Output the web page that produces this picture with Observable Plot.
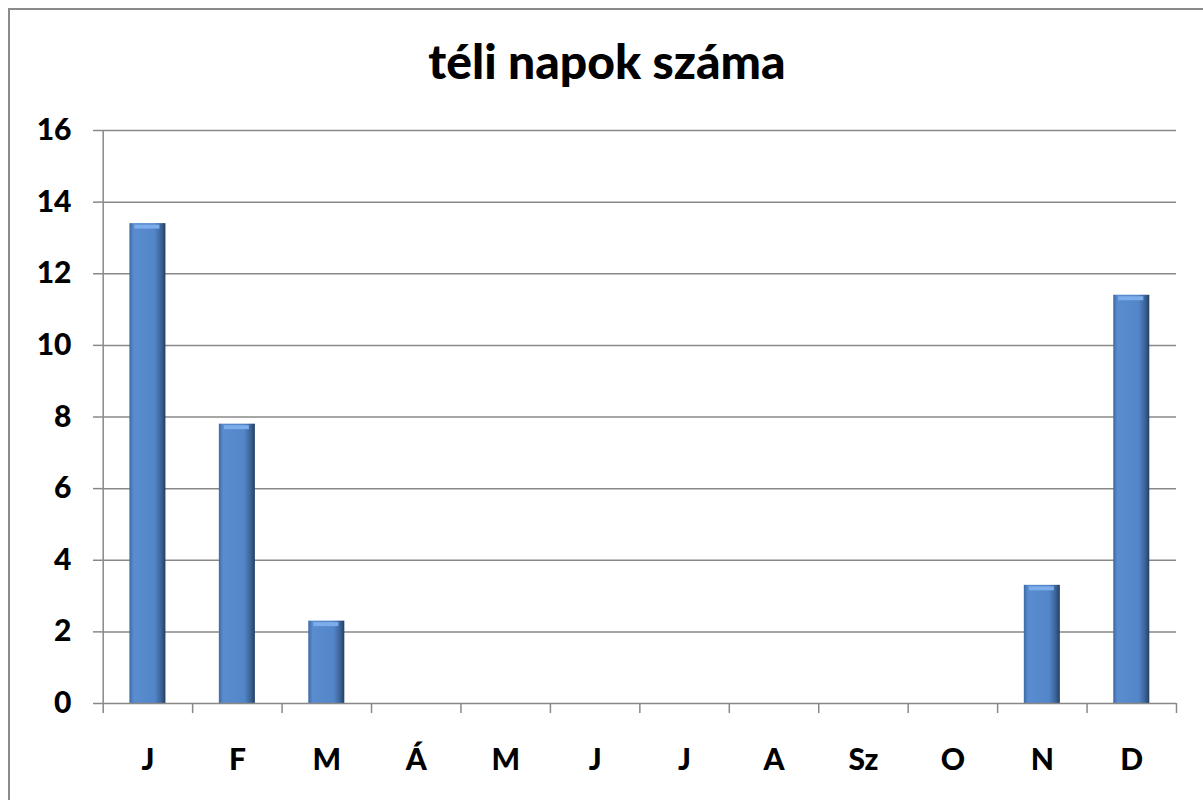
<!DOCTYPE html>
<html>
<head>
<meta charset="utf-8">
<script src="https://cdn.jsdelivr.net/npm/d3@7"></script>
<script src="https://cdn.jsdelivr.net/npm/@observablehq/plot@0.6"></script>
<style>
  html, body { margin: 0; padding: 0; background: #fff; overflow: hidden; }
  #wrap { position: relative; width: 1203px; height: 800px; }
  #frame { position: absolute; left: 8px; top: 8px; width: 1300px; height: 900px;
           border-left: 2px solid #8a8a8a; border-top: 2px solid #8a8a8a; pointer-events: none; }
  #title { position: relative; height: 100px; box-sizing: border-box; padding-top: 37px;
           width: 1214px; text-align: center; font-family: Lato, "Open Sans", sans-serif;
           font-weight: 900; font-size: 48px; line-height: 48px; color: #000; }
  #chart svg { display: block; }
</style>
</head>
<body>
<svg width="0" height="0" style="position:absolute">
  <defs>
    <linearGradient id="barGrad" x1="0" x2="1" y1="0" y2="0">
      <stop offset="0" stop-color="#3e6aa3"/>
      <stop offset="0.12" stop-color="#5a8dd0"/>
      <stop offset="0.7" stop-color="#5386c8"/>
      <stop offset="0.88" stop-color="#3b6499"/>
      <stop offset="1" stop-color="#243f63"/>
    </linearGradient>
  </defs>
</svg>
<div id="wrap">
  <div id="frame"></div>
  <div id="title">téli napok száma</div>
  <div id="chart"></div>
</div>
<script>
// Data
const months = ["J", "F", "M", "Á", "M", "J", "J", "A", "Sz", "O", "N", "D"];
const values = [13.4, 7.8, 2.3, 0, 0, 0, 0, 0, 0, 0, 3.3, 11.4];
const yTicks = [0, 2, 4, 6, 8, 10, 12, 14, 16];

const table = months.map((m, i) => ({i, m, v: values[i]}));
const nonzero = table.filter(d => d.v > 0);
const boundaries = d3.range(months.length + 1);
const centers = months.map((m, i) => i + 0.5);

const grid = "#888888";
const barInset = 26.7;

const chart = Plot.plot({
  width: 1203,
  height: 700,
  marginLeft: 102.7,
  marginRight: 27,
  marginTop: 30,
  marginBottom: 97,
  style: {fontFamily: "Lato, 'Open Sans', sans-serif", fontSize: "30px", fontWeight: "bold", color: "#000", background: "transparent"},
  x: {type: "linear", domain: [0, months.length], axis: null},
  y: {domain: [0, 16], axis: null},
  marks: [
    Plot.ruleY(yTicks.filter(t => t > 0), {stroke: grid, strokeWidth: 1.5}),
    Plot.rectY(table, {
      x1: d => d.i, x2: d => d.i + 1, y: "v",
      insetLeft: barInset, insetRight: barInset,
      fill: "url(#barGrad)"
    }),
    Plot.ruleY(nonzero, {
      y: "v", x1: d => d.i, x2: d => d.i + 1,
      insetLeft: barInset + 5, insetRight: barInset + 6,
      stroke: "#7dadea", strokeWidth: 4, dy: 3
    }),
    Plot.ruleY([0], {stroke: grid, strokeWidth: 1.5}),
    Plot.ruleX([0], {stroke: grid, strokeWidth: 1.5}),
    Plot.axisY({ticks: yTicks, tickSize: 9.7, tickPadding: 22, stroke: grid, strokeWidth: 1.5, label: null,
      fontSize: 30, fontWeight: 900, fill: "#000", tickFormat: d => String(d)}),
    Plot.axisX({ticks: boundaries, tickSize: 10, stroke: grid, strokeWidth: 1.5, label: null, tickFormat: () => ""}),
    Plot.axisX({ticks: centers, tickSize: 0, tickPadding: 45, label: null,
      fontSize: 30, fontWeight: 900, fill: "#000", tickFormat: v => months[Math.floor(v)]})
  ]
});
document.getElementById("chart").appendChild(chart);
</script>
</body>
</html>
